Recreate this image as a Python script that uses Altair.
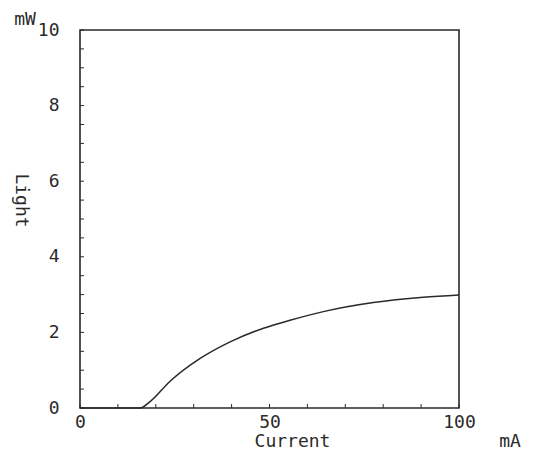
import altair as alt
import pandas as pd

# Curve (Light vs Current)
current_ma = [0, 15.8, 18.5, 23.7, 31.7, 39.6, 48.4, 55.4, 64.2, 77.4, 90.6, 100]
light_mw = [0, 0, 0.17, 0.70, 1.31, 1.75, 2.11, 2.32, 2.55, 2.79, 2.93, 2.99]

# Axis tick values
x_labels = [0, 50, 100]
y_labels = [0, 2, 4, 6, 8, 10]
x_minor = [0, 10, 20, 30, 40, 50, 60, 70, 80, 90, 100]
y_minor = [v / 2 for v in range(0, 21)]

FONT = "DejaVu Sans Mono"
INK = "#2a2a2a"
W, H = 379, 378

curve = pd.DataFrame({"current": current_ma, "light": light_mw})
xt = pd.DataFrame({"current": x_minor})
yt = pd.DataFrame({"light": y_minor})

xscale = alt.Scale(domain=[0, 100], nice=False, zero=False)
yscale = alt.Scale(domain=[0, 10], nice=False, zero=False)

xaxis = alt.Axis(values=x_labels, ticks=False, domain=False, grid=False,
                 labelFlush=False, labelPadding=5, title="Current",
                 titleX=212, titleY=33, titleBaseline="middle",
                 titleAlign="center")
yaxis = alt.Axis(values=y_labels, ticks=False, domain=False, grid=False,
                 labelFlush=False, labelPadding=21, title="Light",
                 titleAngle=90, titleX=-60, titleY=170,
                 titleAlign="center", titleBaseline="middle")

line = alt.Chart(curve).mark_line(color=INK, strokeWidth=1.5, interpolate="monotone").encode(
    x=alt.X("current:Q", scale=xscale, axis=xaxis),
    y=alt.Y("light:Q", scale=yscale, axis=yaxis),
)

xticks = alt.Chart(xt).mark_rule(color=INK, strokeWidth=1).encode(
    x=alt.X("current:Q", scale=xscale, axis=xaxis),
    y=alt.value(H),
    y2=alt.value(H - 4),
)

yticks = alt.Chart(yt).mark_rule(color=INK, strokeWidth=1).encode(
    y=alt.Y("light:Q", scale=yscale, axis=yaxis),
    x=alt.value(0),
    x2=alt.value(4),
)

unit_x = alt.Chart(pd.DataFrame({"u": ["mA"]})).mark_text(
    font=FONT, fontSize=18, color=INK, align="center", baseline="middle"
).encode(x=alt.value(430), y=alt.value(412), text="u:N")

unit_y = alt.Chart(pd.DataFrame({"u": ["mW"]})).mark_text(
    font=FONT, fontSize=18, color=INK, align="center", baseline="middle"
).encode(x=alt.value(-55), y=alt.value(-10), text="u:N")

chart = alt.layer(line, xticks, yticks, unit_x, unit_y).properties(
    width=W, height=H,
    padding={"left": 72, "top": 22, "right": 72, "bottom": 45},
    autosize="none",
    background="white",
).configure_view(
    stroke=INK, strokeWidth=1.6
).configure_axis(
    labelFont=FONT, labelFontSize=18, labelColor=INK,
    titleFont=FONT, titleFontSize=18, titleColor=INK, titleFontWeight="normal",
)

chart.save("out.html", embed_options={"renderer": "svg", "actions": False})
